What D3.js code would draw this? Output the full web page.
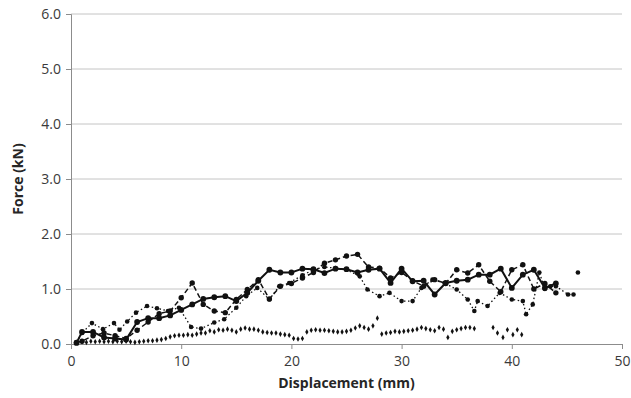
<!DOCTYPE html>
<html>
<head>
<meta charset="utf-8">
<script src="https://cdn.jsdelivr.net/npm/d3@7"></script>
<style>
  body { margin: 0; background: #fff; }
  text { font-family: "Open Sans", sans-serif; }
</style>
</head>
<body>
<div class="canvas"></div>
<script>
// tick labels
const xTicks = [0, 10, 20, 30, 40, 50];
const yTicks = [0, 1, 2, 3, 4, 5, 6];

// solid line series
const solidX = [0.5, 1, 2, 3, 4, 5, 6, 7, 8, 9, 10, 11, 12, 13, 14, 15, 16, 17, 18, 19, 20, 21, 22, 23, 24, 25, 26, 27, 28, 29, 30, 31, 32, 33, 34, 35, 36, 37, 38, 39, 40, 41, 42, 43, 44];
const solidY = [0.02, 0.22, 0.22, 0.12, 0.1, 0.08, 0.4, 0.47, 0.47, 0.52, 0.62, 0.72, 0.82, 0.85, 0.87, 0.78, 0.93, 1.15, 1.35, 1.3, 1.3, 1.37, 1.36, 1.29, 1.37, 1.36, 1.3, 1.35, 1.37, 1.11, 1.37, 1.14, 1.15, 0.9, 1.11, 1.15, 1.17, 1.26, 1.26, 1.37, 1.02, 1.26, 1.35, 1.02, 1.1];

// dashed line series
const dashX = [0.5, 1, 2, 3, 4, 5, 6, 7, 8, 9, 10, 11, 12, 13, 14, 15, 16, 17, 18, 19, 20, 21, 22, 23, 24, 25, 26, 27, 28, 29, 30, 31, 32, 33, 34, 35, 36, 37, 38, 39, 40, 41, 42, 43, 44];
const dashY = [0.03, 0.05, 0.15, 0.2, 0.15, 0.1, 0.25, 0.4, 0.55, 0.6, 0.84, 1.11, 0.72, 0.6, 0.57, 0.81, 0.99, 1.17, 0.82, 1.05, 1.1, 1.2, 1.3, 1.47, 1.53, 1.6, 1.63, 1.4, 1.38, 1.2, 1.3, 1.15, 1.05, 1.17, 1.1, 1.35, 1.29, 1.44, 1.14, 0.95, 1.35, 1.44, 1.0, 1.1, 0.93];

// dotted line series (null = gap)
const dotX = [0.5, 1, 1.9, 2.9, 3.9, 4.4, 5.1, 5.9, 6.9, 7.8, 8.8, 9.8, 10.9, 11.8, 13, 13.9, 15, 15.9, 16.9, 18, 18.9, 19.8, 21, 22, 23, 24, 25, 26.2, 26.9, 28, 28.9, 30, 31, 31.8, 32.8, 33.9, 35, 36, 36.6, 36.9, 37.8, 38.9, 40, 41, 41.3, 41.9, 42.5, 43, 43.5, 44, 45.1, 45.6, 45.8, 46];
const dotY = [0.03, 0.2, 0.38, 0.27, 0.38, 0.26, 0.41, 0.57, 0.69, 0.65, 0.6, 0.66, 0.31, 0.28, 0.39, 0.45, 0.66, 0.87, 1.02, 0.81, 1.05, 1.11, 1.25, 1.35, 1.4, 1.38, 1.35, 1.23, 0.99, 0.87, 0.93, 0.78, 0.78, 1.02, 1.17, 1.11, 0.99, 0.81, 0.6, 0.78, 0.69, 0.93, 0.81, 0.78, 0.54, 0.72, 1.3, 1.0, 1.05, 1.05, 0.9, 0.9, null, 1.3];

// diamond scatter series
const diamondX = [0.5, 1.0, 1.4, 1.8, 2.2, 2.6, 3.0, 3.4, 3.8, 4.2, 4.6, 5.0, 5.4, 5.8, 6.2, 6.6, 7.0, 7.4, 7.8, 8.2, 8.6, 9.0, 9.4, 9.8, 10.2, 10.6, 11.0, 11.4, 11.8, 12.2, 12.6, 13.0, 13.4, 13.8, 14.2, 14.6, 15.0, 15.4, 15.8, 16.2, 16.6, 17.0, 17.4, 17.8, 18.2, 18.6, 19.0, 19.4, 19.8, 20.2, 20.6, 21.0, 21.4, 21.8, 22.2, 22.6, 23.0, 23.4, 23.8, 24.2, 24.6, 25.0, 25.4, 25.8, 26.2, 26.6, 27.0, 27.4, 27.8, 28.2, 28.6, 29.0, 29.4, 29.8, 30.2, 30.6, 31.0, 31.4, 31.8, 32.2, 32.6, 33.0, 33.4, 33.8, 34.2, 34.6, 35.0, 35.4, 35.8, 36.2, 36.6, 38.3, 38.7, 39.2, 39.6, 40.1, 40.5, 40.9];
const diamondY = [0.03, 0.04, 0.03, 0.05, 0.04, 0.05, 0.04, 0.05, 0.04, 0.05, 0.04, 0.05, 0.04, 0.03, 0.04, 0.05, 0.06, 0.06, 0.07, 0.08, 0.1, 0.13, 0.15, 0.16, 0.16, 0.17, 0.16, 0.18, 0.2, 0.2, 0.24, 0.22, 0.26, 0.25, 0.27, 0.25, 0.22, 0.27, 0.29, 0.27, 0.27, 0.25, 0.22, 0.21, 0.2, 0.2, 0.18, 0.17, 0.16, 0.1, 0.09, 0.1, 0.22, 0.25, 0.26, 0.25, 0.25, 0.24, 0.23, 0.22, 0.22, 0.23, 0.25, 0.29, 0.33, 0.3, 0.27, 0.33, 0.47, 0.18, 0.2, 0.21, 0.23, 0.22, 0.23, 0.24, 0.25, 0.27, 0.3, 0.28, 0.26, 0.24, 0.3, 0.27, 0.12, 0.23, 0.26, 0.28, 0.3, 0.3, 0.28, 0.3, 0.2, 0.12, 0.26, 0.17, 0.26, 0.17];

const width = 631;
const height = 398;
const margin = { top: 14, right: 9, bottom: 54, left: 71 };

const svg = d3.select(".canvas").append("svg")
  .attr("width", width)
  .attr("height", height);

const x = d3.scaleLinear().domain([0, 50]).range([margin.left, width - margin.right]);
const y = d3.scaleLinear().domain([0, 6]).range([height - margin.bottom, margin.top]);

// gridlines
svg.append("g")
  .selectAll("line")
  .data(yTicks.slice(1))
  .enter()
  .append("line")
  .attr("x1", x(0))
  .attr("x2", x(50))
  .attr("y1", (d) => y(d))
  .attr("y2", (d) => y(d))
  .attr("stroke", "#c4c4c4")
  .attr("stroke-width", 1);

// axes
const xAxis = svg.append("g")
  .attr("transform", `translate(0, ${y(0)})`)
  .call(d3.axisBottom(x).tickValues(xTicks).tickSize(5).tickPadding(7).tickFormat(d3.format("d")));

const yAxis = svg.append("g")
  .attr("transform", `translate(${x(0)}, 0)`)
  .call(d3.axisLeft(y).tickValues(yTicks).tickSize(5).tickPadding(5).tickFormat(d3.format(".1f")));

[xAxis, yAxis].forEach((a) => {
  a.select(".domain").attr("stroke", "#8c8c8c");
  a.selectAll(".tick line").attr("stroke", "#8c8c8c");
  a.selectAll(".tick text")
    .attr("fill", "#3a3a3a")
    .style("font-size", "14px")
    .style("font-family", "'Open Sans', sans-serif");
});

// axis titles
svg.append("text")
  .attr("x", (x(0) + x(50)) / 2)
  .attr("y", 388)
  .attr("text-anchor", "middle")
  .attr("fill", "#262626")
  .style("font-size", "14px")
  .style("font-weight", "bold")
  .text("Displacement (mm)");

svg.append("text")
  .attr("transform", `translate(23, ${(y(0) + y(6)) / 2}) rotate(-90)`)
  .attr("text-anchor", "middle")
  .attr("fill", "#262626")
  .style("font-size", "14px")
  .style("font-weight", "bold")
  .text("Force (kN)");

const toPoints = (xs, ys) => xs.map((d, i) => ({ x: d, y: ys[i] }));

const line = d3.line()
  .defined((d) => d.y !== null)
  .x((d) => x(d.x))
  .y((d) => y(d.y));

const series = [
  { pts: toPoints(dotX, dotY), dash: "1.5,2.5", w: 1.3, r: 2.3 },
  { pts: toPoints(dashX, dashY), dash: "5,3", w: 1.5, r: 2.7 },
  { pts: toPoints(solidX, solidY), dash: null, w: 2, r: 2.9 },
];

series.forEach((s) => {
  const g = svg.append("g");
  g.append("path")
    .datum(s.pts)
    .attr("fill", "none")
    .attr("stroke", "#111")
    .attr("stroke-width", s.w)
    .attr("stroke-dasharray", s.dash)
    .attr("d", line);
  g.selectAll("circle")
    .data(s.pts.filter((d) => d.y !== null))
    .enter()
    .append("circle")
    .attr("cx", (d) => x(d.x))
    .attr("cy", (d) => y(d.y))
    .attr("r", s.r)
    .attr("fill", "#111");
});

svg.append("g")
  .selectAll("path")
  .data(toPoints(diamondX, diamondY))
  .enter()
  .append("path")
  .attr("d", d3.symbol().type(d3.symbolDiamond).size(9))
  .attr("transform", (d) => `translate(${x(d.x)}, ${y(d.y)})`)
  .attr("fill", "#111");
</script>
</body>
</html>
